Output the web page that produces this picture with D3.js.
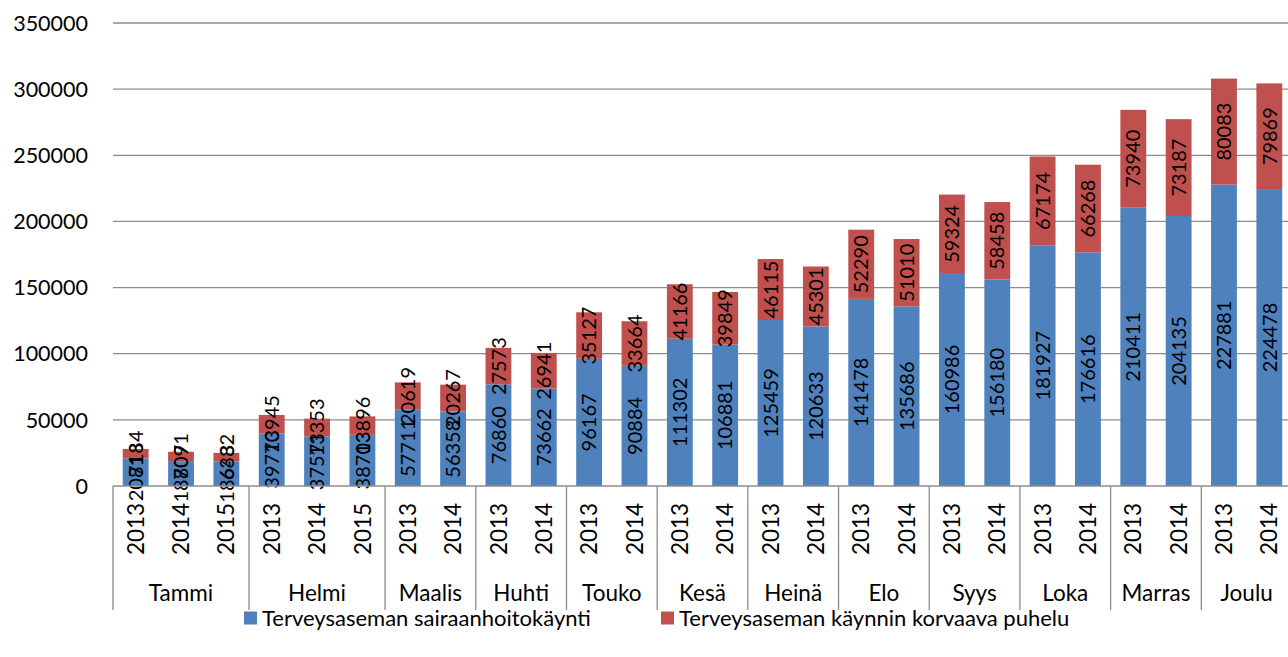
<!DOCTYPE html>
<html>
<head>
<meta charset="utf-8">
<script src="https://cdn.jsdelivr.net/npm/d3@7"></script>
<style>
  body { margin: 0; background: #fff; }
  svg { font-family: Lato, "Open Sans", sans-serif; }
</style>
</head>
<body>
<svg id="chart" width="1288" height="657"></svg>
<script>
// months and the years shown for each of them
const months = ['Tammi', 'Helmi', 'Maalis', 'Huhti', 'Touko', 'Kesä', 'Heinä', 'Elo', 'Syys', 'Loka', 'Marras', 'Joulu'];
const monthYears = [
  ['2013', '2014', '2015'], ['2013', '2014', '2015'],
  ['2013', '2014'], ['2013', '2014'], ['2013', '2014'], ['2013', '2014'],
  ['2013', '2014'], ['2013', '2014'], ['2013', '2014'], ['2013', '2014'],
  ['2013', '2014'], ['2013', '2014']
];
// Terveysaseman sairaanhoitokäynti (cumulative)
const visits = [20813, 18807, 18643, 39770, 37571, 38703, 57711, 56358, 76860, 73662,
  96167, 90884, 111302, 106881, 125459, 120633, 141478, 135686, 160986, 156180,
  181927, 176616, 210411, 204135, 227881, 224478];
// Terveysaseman käynnin korvaava puhelu (cumulative)
const calls = [7184, 7091, 6382, 13945, 13353, 13896, 20619, 20267, 27573, 26941,
  35127, 33664, 41166, 39849, 46115, 45301, 52290, 51010, 59324, 58458,
  67174, 66268, 73940, 73187, 80083, 79869];
const seriesNames = ['Terveysaseman sairaanhoitokäynti', 'Terveysaseman käynnin korvaava puhelu'];
const colors = ['#4f81bd', '#c0504d'];
const yTicks = [0, 50000, 100000, 150000, 200000, 250000, 300000, 350000];

const rows = [];
months.forEach((m, i) => monthYears[i].forEach(y => rows.push({ month: m, year: y, key: m + '-' + y })));
rows.forEach((r, i) => { r.visits = visits[i]; r.calls = calls[i]; });

const svg = d3.select('#chart');
const plotLeft = 113, plotRight = 1292, plotTop = 23, plotBottom = 486;

const x = d3.scaleBand()
  .domain(rows.map(r => r.key))
  .range([plotLeft, plotRight])
  .paddingInner(0.43)
  .paddingOuter(0.215);

const y = d3.scaleLinear().domain([0, 350000]).range([plotBottom, plotTop]);

// gridlines
svg.append('g')
  .selectAll('line')
  .data(yTicks.filter(t => t > 0))
  .join('line')
  .attr('x1', plotLeft).attr('x2', plotRight)
  .attr('y1', d => y(d)).attr('y2', d => y(d))
  .attr('stroke', '#8c8c8c').attr('stroke-width', 1.3);

// y labels
svg.append('g')
  .selectAll('text')
  .data(yTicks)
  .join('text')
  .attr('x', 88)
  .attr('y', d => y(d))
  .attr('dy', '0.36em')
  .attr('text-anchor', 'end')
  .attr('font-size', 21.5)
  .attr('fill', '#000')
  .text(d => d);

// stacked bars
const stack = d3.stack().keys(['visits', 'calls'])(rows);

const layers = svg.append('g')
  .selectAll('g')
  .data(stack)
  .join('g')
  .attr('fill', (d, i) => colors[i]);

layers.selectAll('rect')
  .data(d => d)
  .join('rect')
  .attr('x', d => x(d.data.key))
  .attr('width', x.bandwidth())
  .attr('y', d => y(d[1]))
  .attr('height', d => y(d[0]) - y(d[1]));

// value labels
layers.selectAll('text')
  .data(d => d)
  .join('text')
  .attr('transform', d => `translate(${x(d.data.key) + x.bandwidth() / 2},${(y(d[0]) + y(d[1])) / 2}) rotate(-90)`)
  .attr('text-anchor', 'middle')
  .attr('dy', '0.36em')
  .attr('font-size', 20)
  .attr('fill', '#000')
  .text(d => d[1] - d[0]);

// baseline
svg.append('line')
  .attr('x1', plotLeft).attr('x2', plotRight)
  .attr('y1', plotBottom).attr('y2', plotBottom)
  .attr('stroke', '#8c8c8c').attr('stroke-width', 1.3);

// year labels
svg.append('g')
  .selectAll('text')
  .data(rows)
  .join('text')
  .attr('transform', d => `translate(${x(d.key) + x.bandwidth() / 2},529) rotate(-90)`)
  .attr('text-anchor', 'middle')
  .attr('dy', '0.36em')
  .attr('font-size', 22.5)
  .attr('fill', '#000')
  .text(d => d.year);

// month groups
const groups = months.map((m, i) => {
  const keys = monthYears[i].map(yr => m + '-' + yr);
  const x0 = x(keys[0]) - x.step() * x.paddingInner() / 2;
  const x1 = x(keys[keys.length - 1]) + x.bandwidth() + x.step() * x.paddingInner() / 2;
  return { month: m, x0, x1 };
});

svg.append('g')
  .selectAll('line')
  .data([groups[0].x0].concat(groups.map(g => g.x1)))
  .join('line')
  .attr('x1', d => d).attr('x2', d => d)
  .attr('y1', plotBottom).attr('y2', 610)
  .attr('stroke', '#8c8c8c').attr('stroke-width', 1.3);

svg.append('g')
  .selectAll('text')
  .data(groups)
  .join('text')
  .attr('x', d => (d.x0 + d.x1) / 2)
  .attr('y', 593)
  .attr('dy', '0.36em')
  .attr('text-anchor', 'middle')
  .attr('font-size', 22.5)
  .attr('fill', '#000')
  .text(d => d.month);

// legend
const legendX = [244, 661];
const legend = svg.append('g')
  .selectAll('g')
  .data(seriesNames)
  .join('g')
  .attr('transform', (d, i) => `translate(${legendX[i]},618)`);

legend.append('rect')
  .attr('x', 0).attr('y', -6.5)
  .attr('width', 13).attr('height', 13)
  .attr('fill', (d, i) => colors[i]);

legend.append('text')
  .attr('x', 18)
  .attr('dy', '0.36em')
  .attr('font-size', 22)
  .attr('fill', '#000')
  .text(d => d);
</script>
</body>
</html>
